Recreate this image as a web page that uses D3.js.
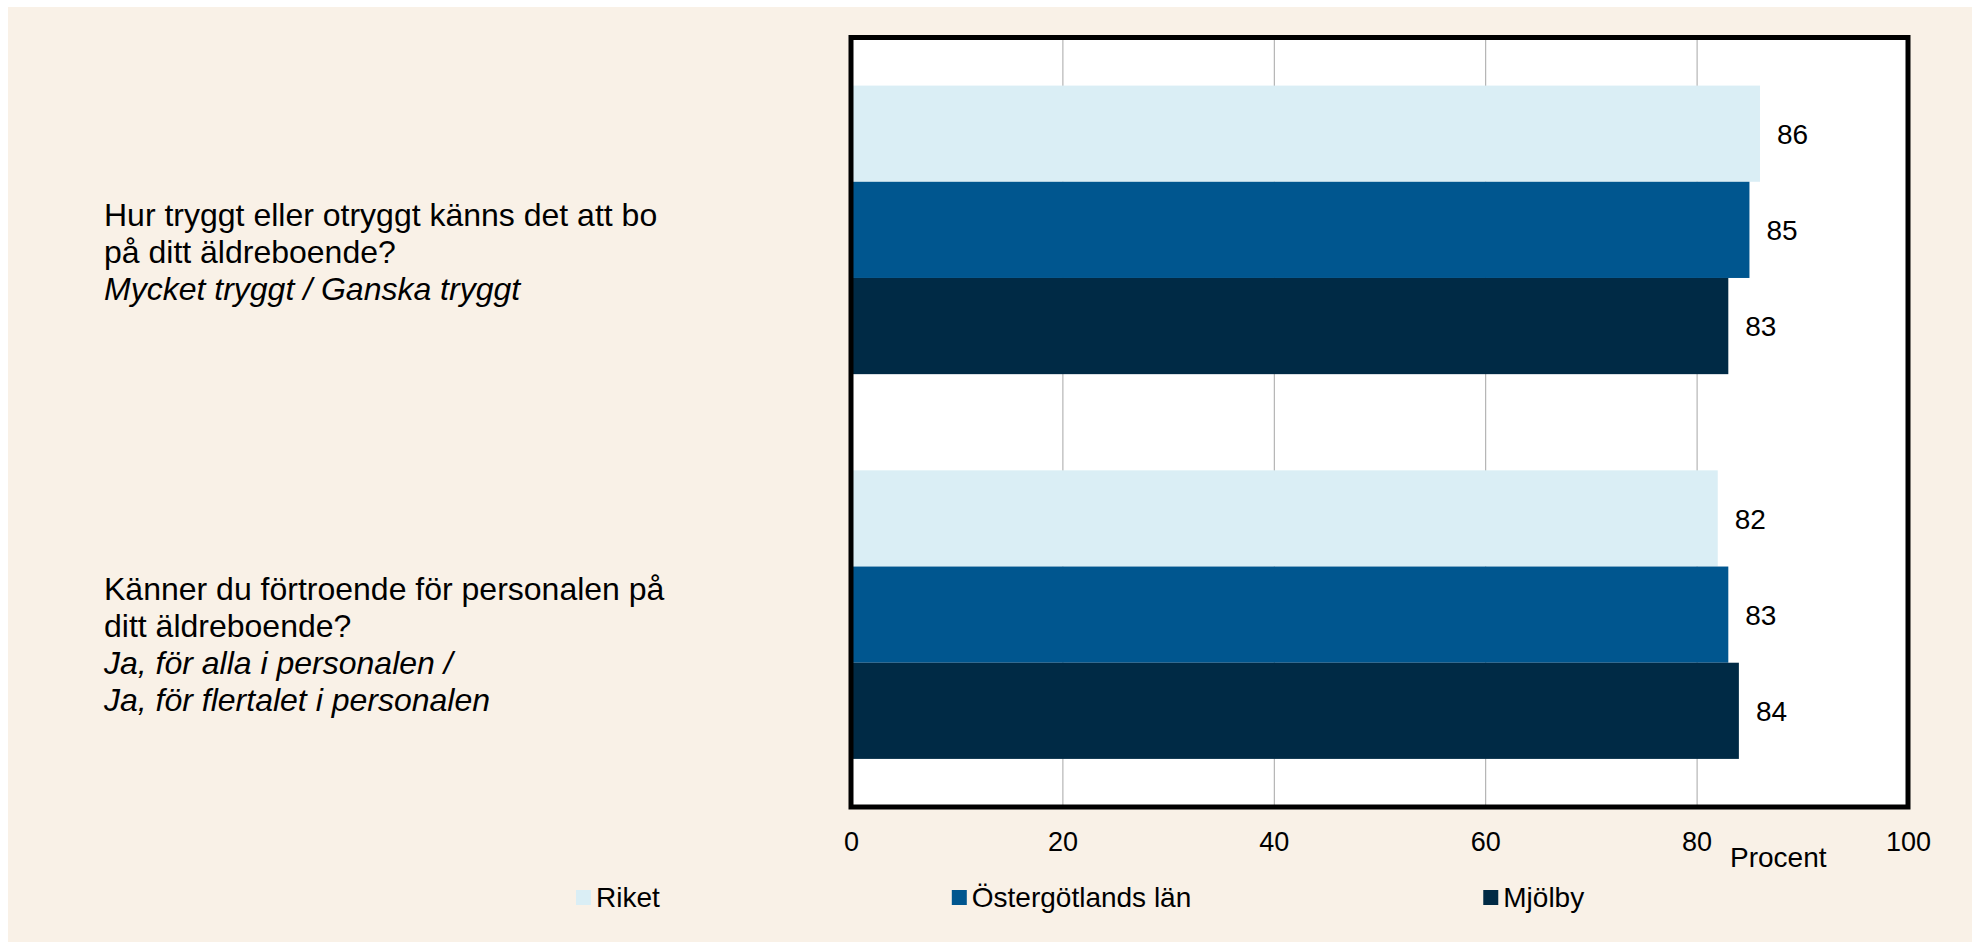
<!DOCTYPE html>
<html>
<head>
<meta charset="utf-8">
<script src="https://cdn.jsdelivr.net/npm/d3@7"></script>
<style>
  html, body { margin: 0; padding: 0; background: #ffffff; }
  svg { display: block; font-family: "Liberation Sans", Arial, sans-serif; }
</style>
</head>
<body>
<div id="chart"></div>
<script>
// Data
const categories = ["trygghet", "fortroende"];
const categoryLines = [
  [
    { text: "Hur tryggt eller otryggt känns det att bo", italic: false },
    { text: "på ditt äldreboende?", italic: false },
    { text: "Mycket tryggt / Ganska tryggt", italic: true }
  ],
  [
    { text: "Känner du förtroende för personalen på", italic: false },
    { text: "ditt äldreboende?", italic: false },
    { text: "Ja, för alla i personalen /", italic: true },
    { text: "Ja, för flertalet i personalen", italic: true }
  ]
];
const seriesNames = ["Riket", "Östergötlands län", "Mjölby"];
const riket = [86, 82];
const ostergotland = [85, 83];
const mjolby = [83, 84];
const xTicks = [0, 20, 40, 60, 80, 100];
const unitLabel = "Procent";

const seriesValues = [riket, ostergotland, mjolby];
const COLORS = ["#daeef5", "#00568f", "#002a45"];

const WIDTH = 1972;
const HEIGHT = 942;
const PLOT = { left: 851, right: 1908, top: 37.5, bottom: 807 };

const svg = d3.select("#chart")
  .append("svg")
  .attr("width", WIDTH)
  .attr("height", HEIGHT);

// beige background, white strip on top / left
svg.append("rect")
  .attr("x", 8).attr("y", 7)
  .attr("width", WIDTH - 8).attr("height", HEIGHT - 7)
  .attr("fill", "#f9f1e7");

// scales
const x = d3.scaleLinear().domain([0, 100]).range([PLOT.left, PLOT.right]);
const y = d3.scaleBand()
  .domain(categories)
  .range([PLOT.top, PLOT.bottom])
  .paddingInner(0.25)
  .paddingOuter(0.125);
const ySeries = d3.scaleBand()
  .domain(seriesNames)
  .range([0, y.bandwidth()]);

// plot area
svg.append("rect")
  .attr("x", PLOT.left).attr("y", PLOT.top)
  .attr("width", PLOT.right - PLOT.left).attr("height", PLOT.bottom - PLOT.top)
  .attr("fill", "#ffffff");

// gridlines
const grid = svg.append("g")
  .attr("transform", "translate(0," + PLOT.bottom + ")")
  .call(d3.axisBottom(x)
    .tickValues(xTicks.slice(1, -1))
    .tickSize(-(PLOT.bottom - PLOT.top))
    .tickFormat(""));
grid.select(".domain").remove();
grid.selectAll("line").attr("stroke", "#a6a6a6").attr("stroke-width", 1);

// bars
const rows = [];
categories.forEach((c, i) => {
  seriesNames.forEach((s, j) => {
    rows.push({ category: c, series: s, value: seriesValues[j][i], color: COLORS[j] });
  });
});

svg.append("g")
  .selectAll("rect")
  .data(rows)
  .enter()
  .append("rect")
  .attr("x", x(0))
  .attr("y", d => y(d.category) + ySeries(d.series))
  .attr("width", d => x(d.value) - x(0))
  .attr("height", ySeries.bandwidth())
  .attr("fill", d => d.color);

// value labels
svg.append("g")
  .selectAll("text")
  .data(rows)
  .enter()
  .append("text")
  .attr("x", d => x(d.value) + 17)
  .attr("y", d => y(d.category) + ySeries(d.series) + ySeries.bandwidth() / 2)
  .attr("dy", "0.36em")
  .attr("font-size", 28)
  .attr("fill", "#000")
  .text(d => d.value);

// frame
svg.append("rect")
  .attr("x", PLOT.left).attr("y", PLOT.top)
  .attr("width", PLOT.right - PLOT.left).attr("height", PLOT.bottom - PLOT.top)
  .attr("fill", "none")
  .attr("stroke", "#000")
  .attr("stroke-width", 5);

// x axis labels
const xAxis = svg.append("g")
  .attr("transform", "translate(0," + PLOT.bottom + ")")
  .call(d3.axisBottom(x).tickValues(xTicks).tickSize(0).tickPadding(25));
xAxis.select(".domain").remove();
xAxis.selectAll("text")
  .attr("font-size", 27)
  .attr("font-family", "Liberation Sans, Arial, sans-serif")
  .attr("fill", "#000");

svg.append("text")
  .attr("x", 1730)
  .attr("y", 867)
  .attr("font-size", 28)
  .text(unitLabel);

// category labels
const LINE_H = 37;
categories.forEach((c, i) => {
  const lines = categoryLines[i];
  const center = y(c) + y.bandwidth() / 2;
  const first = center - (lines.length - 1) / 2 * LINE_H + 9 + 8 * lines.length;
  svg.append("g")
    .selectAll("text")
    .data(lines)
    .enter()
    .append("text")
    .attr("x", 104)
    .attr("y", (d, k) => first + k * LINE_H)
    .attr("font-size", 32)
    .attr("font-style", d => d.italic ? "italic" : "normal")
    .text(d => d.text);
});

// legend
const legend = svg.append("g").attr("transform", "translate(576,0)");
let lx = 0;
seriesNames.forEach((s, j) => {
  const item = legend.append("g").attr("transform", "translate(" + lx + ",0)");
  item.append("rect")
    .attr("x", 0).attr("y", 890)
    .attr("width", 15).attr("height", 15)
    .attr("fill", COLORS[j]);
  const t = item.append("text")
    .attr("x", 20).attr("y", 907)
    .attr("font-size", 28)
    .text(s);
  lx += 20 + t.node().getComputedTextLength() + 292;
});
</script>
</body>
</html>
